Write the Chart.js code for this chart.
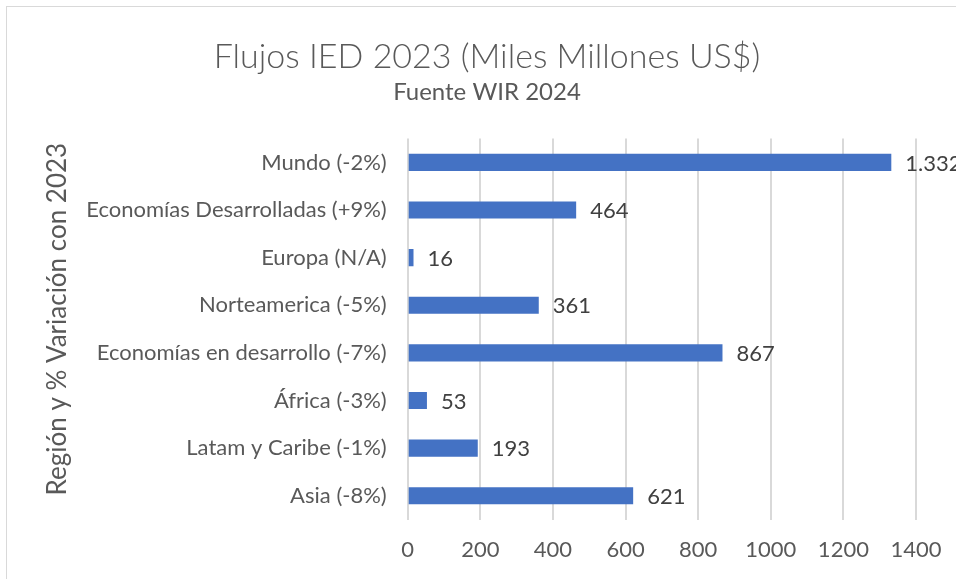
<!DOCTYPE html>
<html>
<head>
<meta charset="utf-8">
<script src="https://cdn.jsdelivr.net/npm/chart.js@4/dist/chart.umd.min.js"></script>
<style>
    html, body { margin: 0; padding: 0; background: #fff; overflow: hidden; }
    #wrap {
        position: absolute;
        left: 6px;
        top: 6px;
        width: 962px;
        height: 600px;
        border: 1px solid #d9d9d9;
        background: #fff;
    }
</style>
</head>
<body>
<div id="wrap"><canvas id="ied-chart"></canvas></div>
<script>
const regions = [
    "Mundo (-2%)",
    "Economías Desarrolladas (+9%)",
    "Europa (N/A)",
    "Norteamerica (-5%)",
    "Economías en desarrollo (-7%)",
    "África (-3%)",
    "Latam y Caribe (-1%)",
    "Asia (-8%)"
];
const flows = [1332, 464, 16, 361, 867, 53, 193, 621];
const xTicks = [0, 200, 400, 600, 800, 1000, 1200, 1400];

const FONT = "Lato, 'Open Sans', sans-serif";

// spanish style thousands: 1.332
function formatES(v) {
    return String(v).replace(/\B(?=(\d{3})+(?!\d))/g, ".");
}

// simple value labels next to each bar
const valueLabels = {
    id: 'valueLabels',
    afterDatasetsDraw(chart) {
        const ctx = chart.ctx;
        const meta = chart.getDatasetMeta(0);
        ctx.save();
        ctx.font = "22px " + FONT;
        ctx.fillStyle = "#404040";
        ctx.textBaseline = "middle";
        ctx.textAlign = "left";
        meta.data.forEach((bar, i) => {
            ctx.fillText(formatES(flows[i]), bar.x + 14, bar.y + 1);
        });
        ctx.restore();
    }
};

const ctx = document.getElementById('ied-chart');

new Chart(ctx, {
    type: 'bar',
    data: {
        labels: regions,
        datasets: [{
            data: flows,
            backgroundColor: '#4472C4',
            borderWidth: 0,
            barPercentage: 0.36,
            categoryPercentage: 1
        }]
    },
    options: {
        indexAxis: 'y',
        responsive: true,
        maintainAspectRatio: false,
        animation: false,
        layout: {
            padding: { left: 51, right: 53, top: 30, bottom: 27 }
        },
        plugins: {
            legend: { display: false },
            tooltip: { enabled: false },
            title: {
                display: true,
                text: 'Flujos IED 2023 (Miles Millones US$)',
                color: '#595959',
                font: { family: FONT, size: 34, weight: '300' },
                padding: { top: 0, bottom: 0 }
            },
            subtitle: {
                display: true,
                text: 'Fuente WIR 2024',
                color: '#595959',
                font: { family: FONT, size: 24 },
                padding: { top: 0, bottom: 32 }
            }
        },
        scales: {
            x: {
                min: 0,
                max: 1400,
                afterBuildTicks: (scale) => {
                    scale.ticks = xTicks.map(v => ({ value: v }));
                },
                grid: {
                    color: '#d9d9d9',
                    lineWidth: 2,
                    drawTicks: false
                },
                border: { display: false },
                ticks: {
                    color: '#595959',
                    font: { family: FONT, size: 22 },
                    padding: 17,
                    callback: (v) => String(v)
                }
            },
            y: {
                grid: { display: false, drawTicks: false },
                border: { display: false },
                ticks: {
                    color: '#595959',
                    font: { family: FONT, size: 22 },
                    padding: 21
                },
                title: {
                    display: true,
                    // leading spaces nudge the rotated title a bit upward
                    text: '   Región y % Variación con 2023',
                    color: '#595959',
                    font: { family: FONT, size: 26 },
                    padding: { top: -15.6, bottom: -8.4 }
                }
            }
        }
    },
    plugins: [valueLabels]
});
</script>
</body>
</html>
